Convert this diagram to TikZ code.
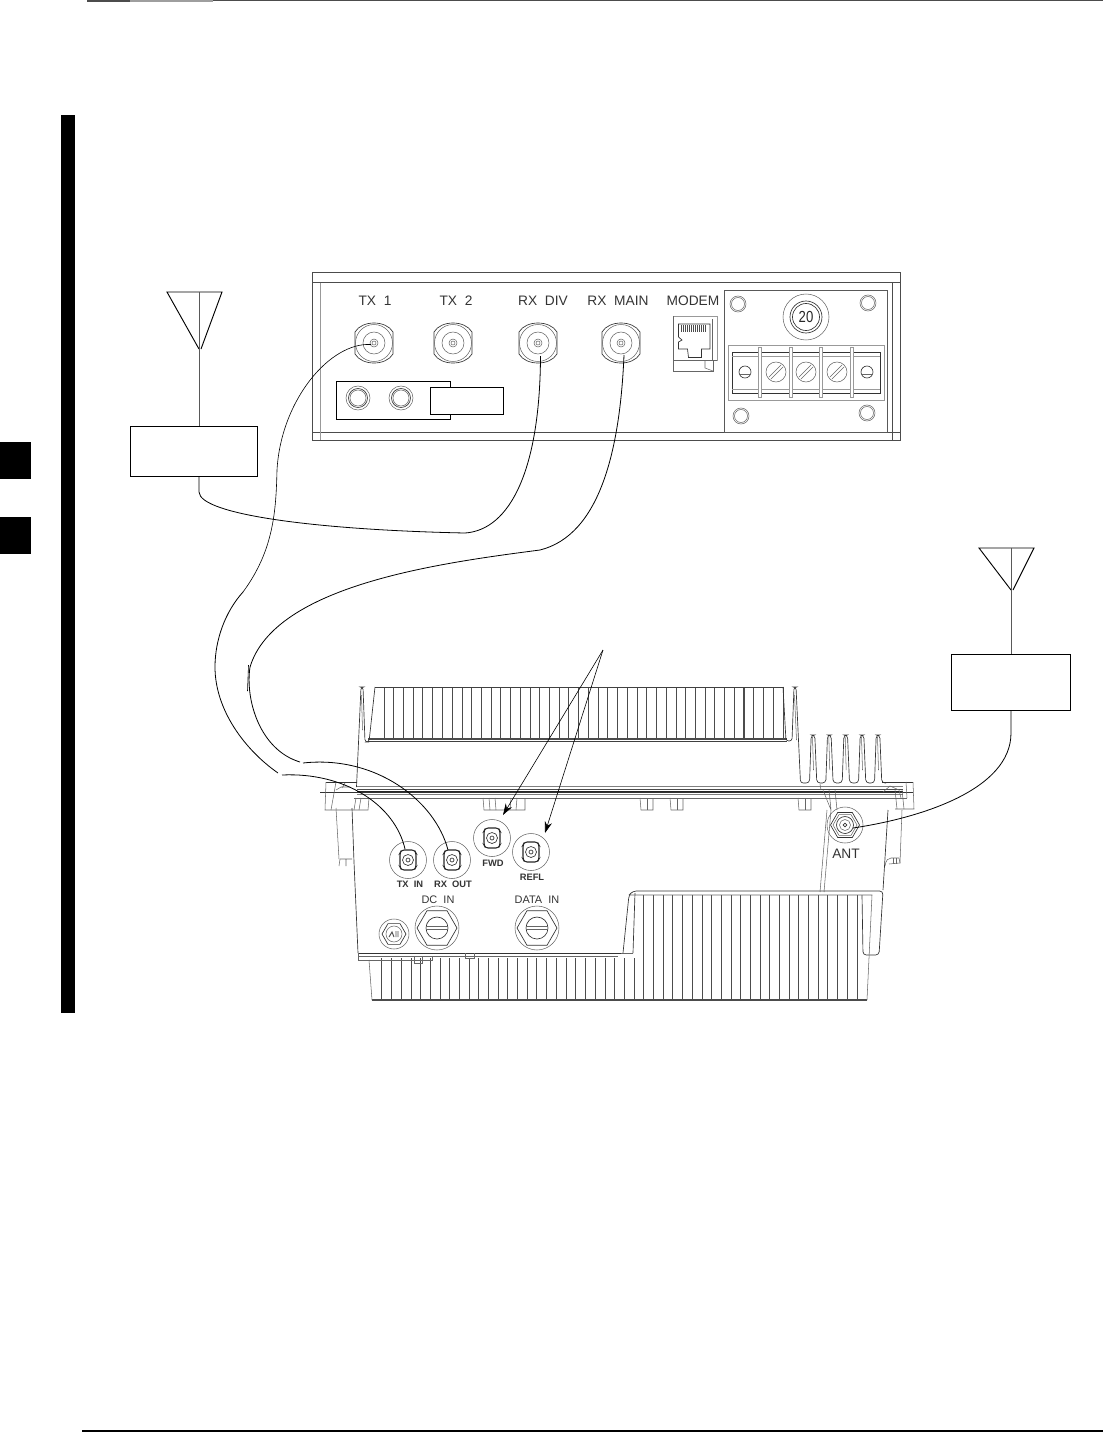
\documentclass[tikz,border=0pt]{standalone}
\usepackage{fontspec}
\setmainfont{Liberation Sans}
\usetikzlibrary{arrows.meta}
\tikzset{
  x=0.75pt,y=-0.75pt,
  ln/.style={line width=.5pt,draw=black!80},
  lt/.style={line width=.4pt,draw=black!60},
  lg/.style={line width=.6pt,draw=black!40},
  frameln/.style={line width=.7pt,draw=black!70},
  wire/.style={line width=.6pt,draw=black},
  boxnode/.style={draw=black,line width=.65pt,fill=white,inner sep=0pt},
  lab/.style={text=black!80,inner sep=0pt,font=\fontsize{10.3}{11}\selectfont},
  slab/.style={text=black!80,inner sep=0pt,font=\fontsize{7}{8}\selectfont\bfseries},
  pics/bnc/.style={code={
    \draw[ln] (-19,-11) .. controls (-12,-23) and (12,-23) .. (19,-11) -- (19,11) .. controls (12,23) and (-12,23) .. (-19,11) -- cycle;
    \draw[lt] (0,0) circle[radius=18.5];
    \draw[lt] (0,0) circle[radius=11];
    \draw[lt] (0,0) circle[radius=4];
    \draw[lt] (0,0) circle[radius=2];
  }},
  pics/rfport/.style={code={
    \draw[lt] (0,0) circle[radius=18.5];
    \draw[line width=.8pt,draw=black!85,rounded corners=2] (-6.5,-10) -- (6.5,-10) -- (8,-7) -- (8,7) -- (6.5,10) -- (-6.5,10) -- (-8,7) -- (-8,-7) -- cycle;
    \draw[ln] (0,0) circle[radius=5.5];
    \draw[ln] (0,0) circle[radius=2];
  }},
  pics/gland/.style={code={
    \draw[lt] (0,0) circle[radius=22];
    \draw[ln] (0:20) -- (60:20) -- (120:20) -- (180:20) -- (240:20) -- (300:20) -- cycle;
    \draw[ln] (0,0) circle[radius=11];
    \draw[lt] (-11,-1.5) -- (11,-1.5) (-11,1.5) -- (11,1.5);
  }},
  pics/corner/.style={code={
    \draw[lt] (0,0) circle[radius=8];
    \draw[lt] (0,0) circle[radius=6.5];
  }},
  pics/screw/.style={code={
    \draw[lt] (0,0) circle[radius=10];
    \draw[lt] (-7,5) -- (5,-7) (-5,7) -- (7,-5);
  }},
  pics/stud/.style={code={
    \draw[ln] (0,0) circle[radius=6];
    \draw[lt] (-6,2) -- (6,2);
  }}
}
\begin{document}
\begin{tikzpicture}
\useasboundingbox (0,0) rectangle (1103,1432);
% page furniture
\fill[black!70] (87,0) rectangle (130,1.7);
\fill[black!38] (130,0) rectangle (213,1.7);
\fill[black!70] (213,0) rectangle (1103,1.2);
\fill[black] (81.5,1430.3) rectangle (1103,1431.8);
\fill[black] (61,115) rectangle (75,1013);
\fill[black] (0,442) rectangle (31,479);
\fill[black] (0,517) rectangle (31,554);

% ---------- radio front panel ----------
\draw[frameln] (312.5,272) rectangle (900.5,440);
\draw[frameln] (312.5,282.5) -- (900.5,282.5);
\draw[frameln] (312.5,432.5) -- (900.5,432.5);
\draw[lg] (320.7,282.5) -- (320.7,440);
\draw[frameln] (892,282.5) -- (892,440);
\coordinate (tx1) at (374,343);
\coordinate (tx2) at (453,343);
\coordinate (rxdiv) at (538,343);
\coordinate (rxmain) at (621,343);
\coordinate (tx1end) at (371,344.5);
\coordinate (rxdivend) at (540.5,356);
\coordinate (rxmainend) at (624,355);
\pic at (tx1) {bnc};
\pic at (tx2) {bnc};
\pic at (rxdiv) {bnc};
\pic at (rxmain) {bnc};
\node[lab] (ltx1) at (375,301) {TX\ \ 1};
\node[lab] (ltx2) at (456,301) {TX\ \ 2};
\node[lab] (lrxdiv) at (543,301) {RX\ \ DIV};
\node[lab] (lrxmain) at (618,301) {RX\ \ MAIN};
\node[lab] (lmodem) at (693,301) {MODEM};
% small panel
\draw[line width=.7pt,draw=black] (450,387) -- (450,381) -- (336,381) -- (336,419) -- (450,419) -- (450,414);
\foreach \x in {358,401} {
  \draw[lt] (\x,398) circle[radius=12];
  \draw[ln] (\x,398) circle[radius=9.5];
  \draw[lt] (\x,398) circle[radius=8];
}
\node[boxnode,minimum width=54.75pt,minimum height=20.25pt] (testbox) at (466.5,400.5) {};
% modem jack
\draw[lg] (673,316) -- (717,316) -- (717,360.5);
\draw[lt] (673,316) -- (673,371) -- (713,371) -- (713,360.5);
\draw[lt] (673,360.5) -- (717,360.5);
\draw[ln] (678.5,324) -- (678.5,337) -- (682,340) -- (678.5,342) -- (678.5,349) -- (687.5,349) -- (688.5,357.5) -- (701.5,357.5) -- (701.5,349) -- (710,349) -- (710,324) -- cycle;
\foreach \x in {681.5,683.5,...,706} \draw[line width=.7pt,black!70] (\x,325) -- (\x,331.5);
\draw[lt] (712,319) -- (712,360);
\draw[lt] (705,361) -- (705,368) -- (713,371);
% right panel
\draw[line width=.6pt,draw=black!65] (724,290) rectangle (887,432);
\pic at (738,304) {corner};
\pic at (868,303) {corner};
\pic at (741,416) {corner};
\pic at (867,413) {corner};
\coordinate (fuse) at (806,317);
\draw[lt] (fuse) circle[radius=23];
\draw[ln] (fuse) circle[radius=16];
\draw[ln] (fuse) circle[radius=13.5];
\node[inner sep=0pt,text=black!85,xscale=.82,font=\fontsize{12}{13}\selectfont] (lfuse) at (fuse) {20};
\draw[lg] (728,345) rectangle (884,400);
\draw[ln] (732,352) rectangle (880,393);
\draw[lg] (732,356) -- (880,356) (732,389) -- (880,389);
\foreach \x in {760,791,821,852} {
  \fill[white] (\x-1.5,347) rectangle (\x+1.5,397);
  \draw[lg] (\x-1.5,347) rectangle (\x+1.5,397);
}
\pic at (745,372) {stud};
\pic at (776,372) {screw};
\pic at (806,372) {screw};
\pic at (837,372) {screw};
\pic at (867,372) {stud};

% ---------- antennas ----------
\coordinate (antAtop) at (199,292);
\coordinate (antAtip) at (199,349);
\draw[line width=.7pt] (antAtip) -- (167,292) -- (222,292) -- (201,349);
\node[boxnode,minimum width=95.6pt,minimum height=37.5pt] (leftbox) at (193.75,451) {};
\draw[line width=.7pt,black!65] (antAtop) -- (antAtop |- leftbox.north);

\coordinate (antBtop) at (1011,548);
\coordinate (antBtip) at (1011,590);
\draw[line width=.7pt] (antBtip) -- (979,548) -- (1034,548) -- (1013,590);
\node[boxnode,minimum width=89.25pt,minimum height=42pt] (rightbox) at (1010.5,682) {};
\draw[line width=.7pt,black!65] (antBtop) -- (antBtop |- rightbox.north);

% ---------- outdoor unit ----------
\foreach \k in {0,...,41} {
  \pgfmathsetmacro\x{384+9.73*\k}
  \pgfmathsetmacro\w{mod(\k,3)==1?0.8:0.45}
  \draw[line width=\w pt,black!70] (\x,687) -- (\x,739);
}
\draw[line width=.6pt,black!75] (375,687) -- (783,687);
\draw[line width=.9pt,black!70] (368,739) -- (787,739);
\draw[line width=.5pt,black!75] (368,741.5) -- (787,741.5);
\draw[ln,rounded corners=2] (356.5,787) -- (361,687) -- (363,687) -- (365,742) -- (369,742) -- (375,687);
\draw[ln,rounded corners=2] (783,687) -- (786,741) -- (792,741) -- (794,687) -- (796,687) -- (800.5,783) -- (805,783);
\draw[lt] (361.5,695) -- (362.5,730) (794.5,695) -- (796.5,740);
\foreach \t in {813,829.3,845.7,862,878} {
  \draw[ln,rounded corners=2.5] (\t-8.2,783) -- (\t-3.5,783) -- (\t-1.8,735) -- (\t+1.8,735) -- (\t+3.8,783) -- (\t+8.2,783);
  \draw[lt] (\t-.5,737) -- (\t+.5,770);
}
\draw[ln] (882,782) -- (913,782);
\draw[ln] (326,782) -- (357,782);
\foreach \y/\c in {786.7/50,789/70,791.7/85,794/50} \draw[line width=.45pt,black!\c] (357,\y) -- (903,\y);
\draw[line width=.4pt,black!80] (320,792) -- (913,792);
\draw[lt] (354,798) -- (907,798);
% left end of flange
\draw[lt] (326,782) -- (325,810) -- (368,810) -- (369,798);
\draw[lt] (336,782) -- (331,810) (345,783) -- (342,788) (336,790) -- (341,787) -- (350,787);
\draw[lt] (356,798) -- (354,810) (361,798) -- (359,810);
% tabs
\foreach \a/\b in {483/525,640/653,670/683,798/811} {
  \draw[lt] (\a,798) -- (\a+1,810) -- (\b,810) -- (\b,798);
}
\draw[lt] (489,798) -- (490,810) (495,798) -- (496,810) (510,810) -- (511,798) (516,810) -- (517,798);
\draw[lt] (647,798) -- (647,810) (677,798) -- (677,810) (805,798) -- (805,810);
% right end of flange
\draw[lt] (913,782) -- (914,809) -- (895,809);
\draw[lt] (906,782) -- (907,798) (895,790) -- (897,809) (902,790) -- (904,809);
\draw[lt] (883,792) -- (890,786) -- (899,790) -- (901,798);
\draw[lt] (820,784) -- (821,790) (823,790) -- (831,810) (829,790) -- (831,810) (835,790) -- (837,810);
% body sides
\draw[lt] (336,808) -- (339,859);
\draw[ln] (352,808) -- (354,862) -- (358,953);
\draw[lt] (340,859) -- (352,859) (340,859) -- (339,866) (346,859) -- (346,866);
\draw[lt] (827,810) -- (820,892);
\draw[lt] (831,810) -- (824,892);
\draw[ln] (888,810) -- (883,890);
\draw[lt] (902,810) -- (900,863);
\draw[lt] (885,866) .. controls (886,860) and (888,858) .. (891,858) -- (899,858) -- (900,863) -- (889,864);
\draw[lt] (893,858) -- (893,864) (896,858) -- (896,864);
% lower fins
\foreach \k in {0,...,49} {
  \pgfmathsetmacro\x{381.7+9.7*\k}
  \pgfmathsetmacro\w{mod(\k,3)==1?0.75:0.45}
  \pgfmathsetmacro\yt{\k>26?895:958}
  \draw[line width=\w pt,black!70] (\x,\yt) -- (\x,1000);
}
\draw[line width=.9pt,black!70] (372,1000) -- (867,1000);
\draw[lt] (369,960) -- (372,1000);
\draw[ln] (358,953) -- (621,953);
\draw[lt] (358,956) -- (618,956);
\draw[lt] (358,953) -- (358,960) -- (432,960) -- (432,957);
\draw[lt] (414,957) -- (414,963) -- (422,963) -- (422,957);
\draw[lt] (465,953) -- (465,958) -- (474,958) -- (474,953);
\draw[ln,rounded corners=2.5] (623,953) -- (629,895) -- (633,891) -- (883,891) -- (879,955) -- (863,955) -- (862,895);
\draw[ln] (633,953) -- (635,893);
\draw[lt] (629,895) -- (872,895) -- (867,1000);
\draw[lt] (633,953) -- (621,953);

% ports
\coordinate (txin) at (408,860);
\coordinate (rxout) at (452,860);
\coordinate (fwd) at (492,838);
\coordinate (refl) at (531,852);
\coordinate (txinend) at (405,849);
\coordinate (rxoutend) at (448,850);
\pic at (txin) {rfport};
\pic at (rxout) {rfport};
\pic at (fwd) {rfport};
\pic at (refl) {rfport};
\node[slab] (ltxin) at (410,884) {TX\ \ IN};
\node[slab] (lrxout) at (453,884) {RX\ \ OUT};
\node[slab] (lfwd) at (493,863) {FWD};
\node[slab] (lrefl) at (532,877) {REFL};
\node[slab,font=\fontsize{8.2}{9}\selectfont] (ldcin) at (438,900) {DC\ \ IN};
\node[slab,font=\fontsize{8.2}{9}\selectfont] (ldatain) at (537,900) {DATA\ \ IN};
\pic at (437,928) {gland};
\pic at (537,928) {gland};
% vent
\coordinate (vent) at (394,934);
\draw[lt] (vent) circle[radius=15];
\draw[ln] (vent) ++(0:12) -- ++(120:12) -- ++(180:12) -- ++(240:12) -- ++(300:12) -- ++(0:12) -- cycle;
\draw[lt] (vent) circle[radius=8];
\draw[line width=.7pt,black!70] (389,937) -- (392,932) -- (394,937) (396,931) -- (396,937) (398,931) -- (398,937);
% ANT
\coordinate (ant) at (845,825);
\coordinate (antend) at (853,828);
\draw[lt] (ant) circle[radius=18];
\draw[ln] (ant) ++(0:14.5) -- ++(120:14.5) -- ++(180:14.5) -- ++(240:14.5) -- ++(300:14.5) -- ++(0:14.5) -- cycle;
\draw[lt] (ant) ++(0:12) -- ++(120:12) -- ++(180:12) -- ++(240:12) -- ++(300:12) -- ++(0:12) -- cycle;
\draw[ln] (ant) circle[radius=8.5];
\draw[lt] (ant) circle[radius=5.5];
\draw[ln] (ant) circle[radius=1.8];
\node[lab] (lant) at (846,854) {ANT};

% ---------- cables ----------
\draw[wire,line width=.45pt] (tx1end) .. controls (330,342) and (281,400) .. (277,470) .. controls (276,510) and (274,550) .. (243,592);
\draw[wire] (243,592) .. controls (225,612) and (215,640) .. (215,667) .. controls (215,710) and (245,750) .. (278,773);
\draw[wire] (282,775) .. controls (345,772) and (395,805) .. (txinend);
\draw[wire] (rxmainend) .. controls (620,450) and (600,535) .. (540,550) .. controls (440,563) and (275,585) .. (250,667);
\draw[wire] (250,667) .. controls (245,700) and (260,750) .. (300,762);
\draw[wire,line width=.45pt] (248.5,665) -- (247.5,691);
\draw[wire] (303,763) .. controls (375,755) and (435,800) .. (rxoutend);
\draw[wire] (antAtop |- leftbox.south) -- (199,492) .. controls (200,515) and (320,530) .. (465,533) .. controls (510,530) and (540,470) .. (rxdivend);
\draw[wire] (antBtop |- rightbox.south) -- (1011,733) .. controls (1011,790) and (920,818) .. (antend);

% ---------- arrows ----------
\coordinate (apex) at (603,650);
\coordinate (fwdtip) at (503,815);
\coordinate (refltip) at (545,833);
\draw[line width=.45pt,black,-{Stealth[length=8.5pt,width=5.5pt]}] (apex) -- (fwdtip);
\draw[line width=.45pt,black,-{Stealth[length=8.5pt,width=5.5pt]}] (apex) -- (refltip);
\end{tikzpicture}
\end{document}
